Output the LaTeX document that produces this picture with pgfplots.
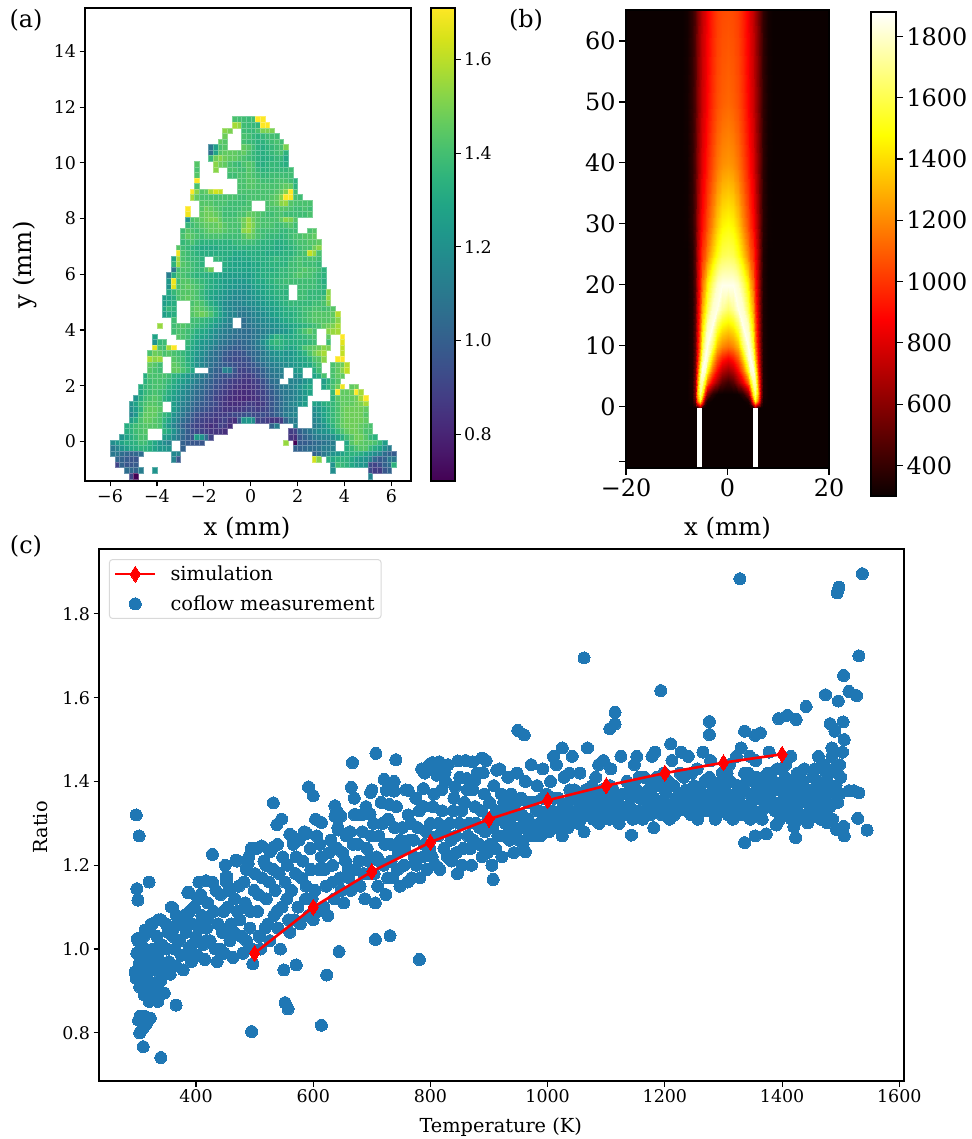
\documentclass[border=0pt]{standalone}
\usepackage{pgfplots}
\usepackage{pgfplotstable}
\usepackage{fontspec}
\setmainfont{DejaVu Serif}
\pgfplotsset{compat=1.18}
\definecolor{tabblue}{HTML}{1F77B4}
\pgfplotsset{
  colormap={mplhot}{rgb(0cm)=(0.0416,0,0) rgb(3.65cm)=(1,0,0) rgb(7.46cm)=(1,1,0) rgb(10cm)=(1,1,1)},
  base/.style={scale only axis, axis line style={line width=1.1bp,black}, tick style={line width=1.1bp,black}, major tick length=5.5bp, tick align=outside},
  sm/.style={tick label style={font=\fontsize{17.5}{18}\selectfont}},
  lg/.style={major tick length=7bp,tick label style={font=\fontsize{24}{24}\selectfont}}
}
% heat map: ratio x 100, top row first, 0 = no data
\pgfplotstableread[header=false]{
0 0 0 0 0 0 0 0 0 0  0 0 0 0 0 0 0 0 0 0  0 0 0 0 0 0 136 135 134 133  134 170 172 0 0 0 0 0 0 0  0 0 0 0 0 0 0 0 0 0  0 0 0 0 0 0 0 0 0 0  0
0 0 0 0 0 0 0 0 0 0  0 0 0 0 0 0 0 0 0 0  0 0 0 0 0 0 150 148 134 133  132 131 171 170 0 0 0 0 0 0  0 0 0 0 0 0 0 0 0 0  0 0 0 0 0 0 0 0 0 0  0
0 0 0 0 0 0 0 0 0 0  0 0 0 0 0 0 0 0 0 0  0 0 0 0 146 144 0 0 134 133  132 136 144 144 144 0 0 0 0 0  0 0 0 0 0 0 0 0 0 0  0 0 0 0 0 0 0 0 0 0  0
0 0 0 0 0 0 0 0 0 0  0 0 0 0 0 0 0 0 0 0  0 0 0 0 142 0 0 0 136 135  132 130 132 134 135 134 0 0 0 0  0 0 0 0 0 0 0 0 0 0  0 0 0 0 0 0 0 0 0 0  0
0 0 0 0 0 0 0 0 0 0  0 0 0 0 0 0 0 0 0 0  0 0 0 140 138 0 0 0 135 133  132 130 130 132 134 136 135 0 0 0  0 0 0 0 0 0 0 0 0 0  0 0 0 0 0 0 0 0 0 0  0
0 0 0 0 0 0 0 0 0 0  0 0 0 0 0 0 0 0 0 0  0 108 122 136 138 0 0 0 140 138  134 130 128 130 132 134 136 144 0 0  0 0 0 0 0 0 0 0 0 0  0 0 0 0 0 0 0 0 0 0  0
0 0 0 0 0 0 0 0 0 0  0 0 0 0 0 0 0 0 0 0  0 105 124 138 140 140 140 138 140 136  132 130 128 130 132 134 136 130 0 0  0 0 0 0 0 0 0 0 0 0  0 0 0 0 0 0 0 0 0 0  0
0 0 0 0 0 0 0 0 0 0  0 0 0 0 0 0 0 0 0 0  0 132 142 146 142 140 140 138 136 134  132 130 128 128 130 132 132 126 0 0  0 0 0 0 0 0 0 0 0 0  0 0 0 0 0 0 0 0 0 0  0
0 0 0 0 0 0 0 0 0 0  0 0 0 0 0 0 0 0 138 0  0 0 146 142 140 136 134 132 136 138  136 130 128 130 132 132 130 128 0 0  0 0 0 0 0 0 0 0 0 0  0 0 0 0 0 0 0 0 0 0  0
0 0 0 0 0 0 0 0 0 0  0 0 0 0 0 0 0 0 136 0  0 0 146 0 0 136 136 134 134 138  136 132 130 130 132 132 132 132 134 0  0 0 0 0 0 0 0 0 0 0  0 0 0 0 0 0 0 0 0 0  0
0 0 0 0 0 0 0 0 0 0  0 0 0 0 0 0 0 0 138 0  0 0 0 0 0 134 134 136 136 138  136 134 132 132 134 134 134 134 134 0  0 0 0 0 0 0 0 0 0 0  0 0 0 0 0 0 0 0 0 0  0
0 0 0 0 0 0 0 0 0 0  0 0 0 0 0 0 0 0 172 0  0 0 0 0 0 0 0 136 136 138  138 136 134 134 134 136 136 136 134 130  0 0 0 0 0 0 0 0 0 0  0 0 0 0 0 0 0 0 0 0  0
0 0 0 0 0 0 0 0 0 0  0 0 0 0 0 0 0 0 136 0  0 0 0 0 0 0 0 136 136 138  138 136 136 136 136 136 138 140 140 130  0 0 0 0 0 0 0 0 0 0  0 0 0 0 0 0 0 0 0 0  0
0 0 0 0 0 0 0 0 0 0  0 0 0 0 0 0 0 172 146 138  140 150 156 154 0 0 0 136 136 136  136 136 136 136 136 138 140 146 172 135  0 0 0 0 0 0 0 0 0 0  0 0 0 0 0 0 0 0 0 0  0
0 0 0 0 0 0 0 0 0 0  0 0 0 0 0 0 0 150 140 136  136 136 136 136 136 136 136 134 134 136  136 136 136 136 138 140 146 170 172 136  134 0 0 0 0 0 0 0 0 0  0 0 0 0 0 0 0 0 0 0  0
0 0 0 0 0 0 0 0 0 0  0 0 0 0 0 0 0 0 0 138  138 138 136 136 136 134 134 134 134 136  0 0 0 136 138 140 146 148 138 136  136 136 136 0 0 0 0 0 0 0  0 0 0 0 0 0 0 0 0 0  0
0 0 0 0 0 0 0 0 0 0  0 0 0 0 0 0 172 0 0 138  142 140 138 136 134 134 134 134 136 136  0 0 0 136 136 136 138 138 136 134  134 136 134 0 0 0 0 0 0 0  0 0 0 0 0 0 0 0 0 0  0
0 0 0 0 0 0 0 0 0 0  0 0 0 0 0 0 160 0 0 140  142 142 140 138 134 134 134 136 136 140  140 138 136 134 134 136 136 134 134 134  134 134 136 0 0 0 0 0 0 0  0 0 0 0 0 0 0 0 0 0  0
0 0 0 0 0 0 0 0 0 0  0 0 0 0 0 0 118 136 138 140  142 144 144 140 136 136 136 138 142 148  142 138 136 136 136 136 140 146 144 138  0 0 0 0 0 0 0 0 0 0  0 0 0 0 0 0 0 0 0 0  0
0 0 0 0 0 0 0 0 0 0  0 0 0 0 0 0 132 134 136 138  140 140 140 142 138 136 136 136 142 148  144 138 136 136 136 134 134 136 138 134  0 0 0 0 0 0 0 0 0 0  0 0 0 0 0 0 0 0 0 0  0
0 0 0 0 0 0 0 0 0 0  0 0 0 0 0 134 138 136 134 136  138 140 140 140 138 136 136 134 146 148  142 136 134 134 134 134 132 132 134 134  0 0 136 138 0 0 0 0 0 0  0 0 0 0 0 0 0 0 0 0  0
0 0 0 0 0 0 0 0 0 0  0 0 0 0 0 136 140 138 136 134  136 136 136 136 134 134 134 134 138 142  140 136 134 132 132 132 130 132 134 136  136 138 138 140 0 0 0 0 0 0  0 0 0 0 0 0 0 0 0 0  0
0 0 0 0 0 0 0 0 0 0  0 0 0 0 0 132 134 136 132 130  130 130 130 130 130 130 132 132 134 134  134 132 130 130 130 128 128 130 132 134  136 136 138 138 140 0 0 0 0 0  0 0 0 0 0 0 0 0 0 0  0
0 0 0 0 0 0 0 0 0 0  0 0 0 0 138 134 132 130 128 126  126 126 126 128 128 128 128 130 130 130  130 130 128 128 128 126 126 128 130 132  134 136 136 142 146 0 0 0 0 0  0 0 0 0 0 0 0 0 0 0  0
0 0 0 0 0 0 0 0 0 0  0 0 0 0 160 136 134 132 130 128  128 128 128 128 128 128 126 126 126 128  128 128 128 126 128 128 128 130 130 132  134 136 154 148 136 0 0 0 0 0  0 0 0 0 0 0 0 0 0 0  0
0 0 0 0 0 0 0 0 0 0  0 0 0 124 150 136 134 132 132 130  0 0 132 130 128 126 124 124 126 126  128 128 128 128 130 132 130 130 132 134  136 134 136 136 134 0 0 0 0 0  0 0 0 0 0 0 0 0 0 0  0
0 0 0 0 0 0 0 0 0 0  0 0 0 130 148 138 136 134 132 130  0 0 0 0 128 126 124 124 124 124  126 126 128 128 130 130 130 130 134 134  136 134 134 134 132 0 0 0 0 0  0 0 0 0 0 0 0 0 0 0  0
0 0 0 0 0 0 0 0 0 0  0 0 0 108 134 136 136 134 132 132  136 142 0 0 126 124 124 124 124 124  126 126 128 128 128 130 132 132 134 134  136 138 136 136 134 130 0 0 0 0  0 0 0 0 0 0 0 0 0 0  0
0 0 0 0 0 0 0 0 0 0  0 0 110 128 136 136 134 132 130 130  128 128 126 124 122 122 122 122 122 122  124 126 128 128 130 130 132 132 134 136  138 136 136 134 132 130 0 0 0 0  0 0 0 0 0 0 0 0 0 0  0
0 0 0 0 0 0 0 0 0 0  0 0 120 160 134 138 138 136 134 132  130 128 126 124 122 122 120 120 120 122  124 126 126 128 130 132 132 134 134 134  134 134 134 134 132 128 0 0 0 0  0 0 0 0 0 0 0 0 0 0  0
0 0 0 0 0 0 0 0 0 0  0 0 118 158 136 138 140 138 136 134  130 128 126 124 122 120 120 118 118 118  122 124 124 126 128 130 132 132 0 0  134 134 134 134 132 130 0 0 0 0  0 0 0 0 0 0 0 0 0 0  0
0 0 0 0 0 0 0 0 0 0  0 0 126 132 136 138 138 138 136 132  128 126 124 122 120 118 116 116 116 118  120 122 124 126 128 130 130 130 0 0  134 134 132 132 132 130 146 0 0 0  0 0 0 0 0 0 0 0 0 0  0
0 0 0 0 0 0 0 0 0 0  0 122 124 128 136 138 140 138 136 132  128 124 122 120 118 116 114 114 114 116  118 120 122 124 126 128 130 130 0 0  134 134 132 132 132 134 148 0 0 0  0 0 0 0 0 0 0 0 0 0  0
0 0 0 0 0 0 0 0 0 0  0 122 126 128 0 0 0 136 138 136  132 128 124 120 116 114 112 112 114 116  116 118 120 122 124 126 128 130 132 132  132 132 132 134 134 136 144 0 0 0  0 0 0 0 0 0 0 0 0 0  0
0 0 0 0 0 0 0 0 0 0  0 126 132 130 0 0 0 138 140 138  136 132 128 122 116 114 112 110 110 112  114 116 118 120 122 124 126 128 130 130  132 134 134 136 136 134 136 138 0 0  0 0 0 0 0 0 0 0 0 0  0
0 0 0 0 0 0 0 0 0 0  0 122 126 128 0 0 0 138 140 142  140 136 130 124 118 114 112 108 108 110  112 114 116 118 122 124 126 128 128 130  132 134 136 138 138 138 138 140 152 0  0 0 0 0 0 0 0 0 0 0  0
0 0 0 0 0 0 0 0 0 0  0 0 0 134 0 0 0 134 134 132  130 128 124 120 116 112 0 0 104 108  110 112 114 116 118 120 124 126 128 130  132 134 136 138 138 138 138 140 146 0  0 0 0 0 0 0 0 0 0 0  0
0 0 0 0 0 0 0 0 0 0  148 0 0 134 136 138 136 134 132 130  128 124 120 116 112 110 0 0 104 106  108 110 112 114 116 118 120 122 124 126  128 130 132 134 136 140 142 144 150 0  0 0 0 0 0 0 0 0 0 0  0
0 0 0 0 0 0 0 0 0 0  0 0 0 134 136 136 134 132 128 126  124 120 116 112 110 108 106 104 104 104  106 108 110 112 114 116 118 120 124 128  132 136 140 136 0 0 146 148 150 0  0 0 0 0 0 0 0 0 0 0  0
0 0 0 0 0 0 0 0 0 124  0 0 0 0 138 136 134 130 126 124  122 118 114 110 108 106 104 104 104 104  106 108 112 116 124 130 128 126 126 128  130 132 134 136 0 0 140 0 0 170  0 0 0 0 0 0 0 0 0 0  0
0 0 0 0 0 0 0 0 0 118  132 134 0 0 0 0 132 128 124 120  118 116 112 108 106 104 102 100 102 104  106 110 116 122 130 132 130 128 128 128  130 130 132 134 0 0 134 0 0 158  0 0 0 0 0 0 0 0 0 0  0
0 0 0 0 0 0 0 0 0 158  136 134 150 166 0 0 130 126 122 118  116 112 108 104 102 100 98 98 100 102  104 108 112 118 124 128 128 126 124 126  130 136 138 140 142 146 144 0 0 154  0 0 0 0 0 0 0 0 0 0  0
0 0 0 0 0 0 0 0 136 142  140 136 138 136 134 132 128 124 120 116  112 108 104 102 98 96 94 94 96 100  102 104 108 112 116 118 120 118 120 122  126 130 136 142 146 150 0 0 0 154  0 0 0 0 0 0 0 0 0 0  0
0 0 0 0 0 0 0 0 150 146  148 0 0 138 136 134 128 124 118 114  110 106 104 100 96 94 92 92 94 96  100 104 108 110 114 116 118 118 120 122  124 126 130 136 138 146 0 0 168 170  0 0 0 0 0 0 0 0 0 0  0
0 0 0 0 0 0 0 0 140 138  134 0 0 140 138 134 130 124 118 114  110 106 102 100 98 96 94 92 92 94  96 100 104 108 110 112 114 116 118 120  122 124 126 132 136 0 0 136 140 142  152 0 0 0 0 0 0 0 0 0  0
0 0 0 0 0 0 0 0 138 136  134 0 0 140 140 136 132 126 0 0  0 104 100 98 112 110 96 90 90 92  94 96 100 104 108 110 112 0 0 120  122 0 0 128 134 0 0 136 140 146  154 0 0 0 0 0 0 0 0 0  0
0 0 0 0 0 0 0 128 136 136  136 136 134 130 128 124 120 116 112 110  106 102 98 96 94 96 92 90 88 88  90 94 98 102 106 108 110 0 0 116  118 0 0 124 128 136 0 136 140 140  0 0 0 0 0 0 0 0 0 0  0
0 0 0 0 0 0 0 130 134 136  136 134 132 128 124 122 118 114 110 106  102 100 96 94 92 90 88 87 86 86  88 90 94 98 104 106 0 0 112 112  114 118 122 0 0 122 128 134 138 0  0 0 0 0 0 0 0 0 0 0  0
0 0 0 0 0 0 128 132 134 136  136 134 130 126 122 118 114 110 106 104  100 98 94 92 90 88 86 85 84 85  86 88 92 96 100 104 108 110 112 114  118 122 126 0 0 124 130 136 142 160  0 140 142 0 0 0 0 0 0 0  0
0 0 0 0 0 0 126 132 134 136  134 132 128 124 120 116 112 108 104 102  98 96 92 90 88 86 84 83 83 84  85 88 90 94 98 102 106 108 110 112  116 120 124 0 0 0 0 132 172 140  140 142 170 150 0 0 0 0 0 0  0
0 0 0 0 0 118 128 134 136 138  136 130 126 122 118 114 110 106 102 100  96 94 90 88 86 84 83 82 82 83  84 86 90 92 96 100 104 108 110 112  116 120 0 0 0 0 0 130 138 140  140 140 142 150 170 0 0 0 0 0  0
0 0 0 0 118 124 132 136 138 138  136 0 0 122 116 112 108 104 100 98  96 94 92 88 86 84 84 84 86 88  88 86 88 92 96 100 104 108 112 114  118 122 0 124 122 128 130 132 136 140  140 140 142 144 150 0 0 0 0 0  0
0 0 0 0 116 122 130 138 140 140  138 0 0 122 116 110 106 102 98 96  94 92 90 88 86 86 86 86 88 90  90 88 90 92 96 100 104 108 110 112  0 0 0 116 120 124 128 132 136 140  142 142 142 142 140 0 0 0 0 0  0
0 0 0 0 112 120 134 140 140 140  136 132 128 118 112 108 102 98 94 92  90 90 88 88 88 90 92 92 94 96  92 92 94 92 96 100 104 110 112 114  0 0 0 114 118 124 128 132 136 140  142 142 142 142 138 0 0 0 0 0  0
0 0 0 0 122 128 136 140 140 138  136 130 124 116 110 104 100 96 92 90  88 88 86 88 90 86 84 96 118 120  116 90 90 88 86 86 88 100 108 110  0 0 0 112 116 122 128 132 136 140  142 142 142 142 140 0 0 0 0 0  0
0 0 0 128 130 134 136 138 138 138  136 128 120 112 106 100 96 92 90 88  86 84 86 90 88 84 0 0 0 0  0 0 0 0 100 110 0 0 0 112  0 0 0 110 114 118 124 130 136 140  142 142 142 140 138 136 0 0 0 0  0
0 0 0 128 130 134 136 138 0 0  0 130 126 118 110 104 98 94 92 90  88 86 86 86 84 0 0 0 0 0  0 0 0 0 0 0 0 0 88 90  100 104 108 112 116 118 120 126 132 136  140 142 142 140 136 136 0 0 0 0  0
0 0 118 124 128 132 136 136 0 0  0 122 120 114 108 102 98 96 122 118  104 90 0 0 0 0 0 0 0 0  0 0 0 0 0 0 0 0 86 84  96 100 104 108 110 112 112 116 122 128  134 138 142 142 138 132 130 0 0 0  0
116 120 124 128 128 130 134 134 130 126  120 116 112 0 0 100 98 96 96 96  0 0 0 0 0 0 0 0 0 0  0 0 0 0 0 0 0 148 0 72  98 98 100 102 104 106 108 110 0 0  126 138 142 140 138 138 136 132 122 0  0
108 112 118 122 126 128 130 130 128 124  120 120 118 0 0 100 0 0 0 0  0 0 0 0 0 0 0 0 0 0  0 0 0 0 0 0 0 0 0 100  100 102 104 104 106 110 110 112 0 0  128 132 136 138 138 132 128 124 116 110  0
108 108 104 102 100 102 104 0 0 0  0 0 0 114 112 0 0 0 0 0  0 0 0 0 0 0 0 0 0 0  0 0 0 0 0 0 0 0 0 0  0 0 0 100 104 108 112 118 120 124  128 130 130 128 124 120 116 112 104 100  98
0 102 100 98 96 96 0 0 0 0  0 0 0 112 96 0 0 0 0 0  0 0 0 0 0 0 0 0 0 0  0 0 0 0 0 0 0 0 0 0  0 0 0 156 146 0 128 126 130 130  130 126 122 120 118 112 102 98 100 108  108
0 90 100 96 96 98 0 0 0 0  0 0 0 0 0 0 0 0 0 0  0 0 0 0 0 0 0 0 0 0  0 0 0 0 0 0 0 0 0 0  0 0 0 0 0 0 0 118 134 132  130 126 122 120 118 92 90 94 100 104  130
0 0 0 104 102 100 110 0 0 118  0 0 0 0 0 0 0 0 0 0  0 0 0 0 0 0 0 0 0 0  0 0 0 0 0 0 0 0 0 0  0 0 0 0 0 0 0 116 0 0  0 0 0 0 0 92 88 88 96 100  0
0 0 0 0 90 72 0 0 0 0  0 0 0 0 0 0 0 0 0 0  0 0 0 0 0 0 0 0 0 0  0 0 0 0 0 0 0 0 0 0  0 0 0 0 0 0 0 0 0 0  0 0 0 0 0 112 0 0 0 0  0
}\cells
% flame temperature, right half (x>=0); the left half is drawn by mirroring it
\pgfplotstableread[row sep=\\]{
x y T\\
0 -10 300\\ 1 -10 300\\ 2 -10 300\\ 3 -10 300\\ 4 -10 300\\ 4.5 -10 300\\ 5 -10 300\\ 5.5 -10 300\\ 6 -10 300\\ 6.5 -10 300\\ 7 -10 300\\ 8 -10 300\\ 9 -10 300\\ 20 -10 300\\
0 -0.1 300\\ 1 -0.1 300\\ 2 -0.1 300\\ 3 -0.1 300\\ 4 -0.1 300\\ 4.5 -0.1 300\\ 5 -0.1 300\\ 5.5 -0.1 300\\ 6 -0.1 300\\ 6.5 -0.1 300\\ 7 -0.1 300\\ 8 -0.1 300\\ 9 -0.1 300\\ 20 -0.1 300\\
0 0 300\\ 1 0 300\\ 2 0 300\\ 3 0 300\\ 4 0 300\\ 4.5 0 320\\ 5 0 400\\ 5.5 0 700\\ 6 0 400\\ 6.5 0 320\\ 7 0 300\\ 8 0 300\\ 9 0 300\\ 20 0 300\\
0 0.5 300\\ 1 0.5 300\\ 2 0.5 300\\ 3 0.5 300\\ 4 0.5 310\\ 4.5 0.5 380\\ 5 0.5 800\\ 5.5 0.5 1100\\ 6 0.5 800\\ 6.5 0.5 400\\ 7 0.5 310\\ 8 0.5 300\\ 9 0.5 300\\ 20 0.5 300\\
0 1 300\\ 1 1 300\\ 2 1 300\\ 3 1 300\\ 4 1 340\\ 4.5 1 500\\ 5 1 1100\\ 5.5 1 1500\\ 6 1 1100\\ 6.5 1 500\\ 7 1 320\\ 8 1 300\\ 9 1 300\\ 20 1 300\\
0 2 300\\ 1 2 300\\ 2 2 310\\ 3 2 380\\ 4 2 600\\ 4.5 2 900\\ 5 2 1500\\ 5.5 2 1700\\ 6 2 1300\\ 6.5 2 600\\ 7 2 340\\ 8 2 300\\ 9 2 300\\ 20 2 300\\
0 4 420\\ 1 4 480\\ 2 4 650\\ 3 4 850\\ 4 4 1150\\ 4.5 4 1450\\ 5 4 1750\\ 5.5 4 1750\\ 6 4 1150\\ 6.5 4 600\\ 7 4 350\\ 8 4 300\\ 9 4 300\\ 20 4 300\\
0 6 650\\ 1 6 720\\ 2 6 900\\ 3 6 1150\\ 4 6 1550\\ 4.5 6 1800\\ 5 6 1850\\ 5.5 6 1600\\ 6 6 1000\\ 6.5 6 550\\ 7 6 340\\ 8 6 300\\ 9 6 300\\ 20 6 300\\
0 8 880\\ 1 8 950\\ 2 8 1100\\ 3 8 1400\\ 4 8 1800\\ 4.5 8 1860\\ 5 8 1700\\ 5.5 8 1350\\ 6 8 880\\ 6.5 8 520\\ 7 8 340\\ 8 8 300\\ 9 8 300\\ 20 8 300\\
0 10 1150\\ 1 10 1200\\ 2 10 1320\\ 3 10 1650\\ 4 10 1850\\ 4.5 10 1780\\ 5 10 1550\\ 5.5 10 1200\\ 6 10 820\\ 6.5 10 500\\ 7 10 340\\ 8 10 300\\ 9 10 300\\ 20 10 300\\
0 13 1400\\ 1 13 1450\\ 2 13 1600\\ 3 13 1850\\ 4 13 1780\\ 4.5 13 1620\\ 5 13 1400\\ 5.5 13 1100\\ 6 13 780\\ 6.5 13 490\\ 7 13 340\\ 8 13 300\\ 9 13 300\\ 20 13 300\\
0 16 1650\\ 1 16 1720\\ 2 16 1840\\ 3 16 1800\\ 4 16 1600\\ 4.5 16 1450\\ 5 16 1280\\ 5.5 16 1020\\ 6 16 750\\ 6.5 16 480\\ 7 16 340\\ 8 16 300\\ 9 16 300\\ 20 16 300\\
0 20 1850\\ 1 20 1850\\ 2 20 1800\\ 3 20 1650\\ 4 20 1450\\ 4.5 20 1300\\ 5 20 1150\\ 5.5 20 950\\ 6 20 720\\ 6.5 20 480\\ 7 20 350\\ 8 20 300\\ 9 20 300\\ 20 20 300\\
0 25 1620\\ 1 25 1600\\ 2 25 1500\\ 3 25 1350\\ 4 25 1180\\ 4.5 25 1080\\ 5 25 1000\\ 5.5 25 880\\ 6 25 690\\ 6.5 25 480\\ 7 25 350\\ 8 25 300\\ 9 25 300\\ 20 25 300\\
0 30 1480\\ 1 30 1450\\ 2 30 1350\\ 3 30 1200\\ 4 30 1060\\ 4.5 30 980\\ 5 30 900\\ 5.5 30 800\\ 6 30 650\\ 6.5 30 480\\ 7 30 370\\ 8 30 310\\ 9 30 300\\ 20 30 300\\
0 40 1230\\ 1 40 1210\\ 2 40 1150\\ 3 40 1050\\ 4 40 940\\ 4.5 40 880\\ 5 40 810\\ 5.5 40 720\\ 6 40 600\\ 6.5 40 480\\ 7 40 380\\ 8 40 310\\ 9 40 300\\ 20 40 300\\
0 50 1120\\ 1 50 1100\\ 2 50 1060\\ 3 50 980\\ 4 50 880\\ 4.5 50 820\\ 5 50 760\\ 5.5 50 680\\ 6 50 580\\ 6.5 50 470\\ 7 50 390\\ 8 50 320\\ 9 50 300\\ 20 50 300\\
0 65.1 1060\\ 1 65.1 1050\\ 2 65.1 1020\\ 3 65.1 950\\ 4 65.1 860\\ 4.5 65.1 800\\ 5 65.1 740\\ 5.5 65.1 670\\ 6 65.1 570\\ 6.5 65.1 470\\ 7 65.1 390\\ 8 65.1 320\\ 9 65.1 300\\ 20 65.1 300\\
}\flame
\pgfplotstableread[row sep=\\]{
T R\\
298 1.32\\ 303 1.27\\ 320 1.16\\ 299 1.144\\ 301 1.117\\ 428 1.226\\ 366 0.866\\ 310 0.767\\ 340 0.741\\ 495 0.803\\ 614 0.818\\ 550 0.95\\ 571 0.962\\ 623 0.938\\ 644 0.994\\ 706 1.023\\ 731 1.032\\ 781 0.975\\ 552 0.872\\ 557 0.857\\ 907 1.166\\
1328 1.884\\ 1537 1.896\\ 1497 1.864\\ 1494 1.85\\ 1531 1.70\\ 1062 1.695\\ 1505 1.653\\ 1193 1.617\\ 1514 1.615\\ 1527 1.605\\ 1474 1.607\\ 1496 1.592\\ 1441 1.579\\ 1394 1.55\\ 1409 1.558\\ 1424 1.548\\ 1482 1.538\\ 1504 1.542\\ 1115 1.565\\ 1115 1.537\\ 1106 1.526\\ 1276 1.543\\ 1276 1.512\\ 949 1.522\\ 960 1.511\\ 1336 1.52\\ 1363 1.516\\ 1354 1.51\\
962 1.232\\ 1143 1.272\\ 1181 1.29\\ 1336 1.254\\ 1354 1.27\\ 1373 1.275\\ 1423 1.266\\ 1390 1.296\\ 1545 1.284\\ 1529 1.312\\ 1505 1.293\\ 1506 1.27\\ 1493 1.285\\ 1477 1.301\\ 1444 1.301\\ 1420 1.292\\ 1424 1.306\\ 1499 1.371\\ 1514 1.378\\ 1522 1.378\\ 1531 1.373\\
494 1.24\\ 512 1.246\\ 539 1.25\\ 526 1.232\\ 468 1.212\\ 489 1.204\\ 452 1.174\\ 417 1.163\\ 388 1.135\\ 360 1.099\\ 336 1.07\\ 324 1.06\\ 313 1.045\\ 560 1.274\\ 589 1.276\\ 576 1.26\\ 532 1.349\\ 546 1.31\\ 538 1.297\\ 592 1.387\\ 600 1.366\\ 614 1.302\\ 637 1.342\\ 637 1.317\\ 647 1.317\\ 643 1.284\\ 667 1.445\\ 665 1.386\\ 670 1.321\\ 683 1.32\\ 697 1.322\\ 698 1.374\\ 707 1.467\\ 741 1.452\\ 721 1.405\\ 725 1.379\\ 738 1.377\\ 730 1.345\\ 762 1.379\\ 788 1.383\\ 790 1.42\\ 803 1.445\\ 815 1.447\\ 847 1.449\\ 872 1.447\\ 888 1.456\\ 825 1.422\\ 811 1.415\\ 842 1.387\\ 862 1.407\\ 876 1.403\\ 890 1.421\\ 913 1.427\\
297 0.94\\ 299 0.99\\ 301 1.02\\ 303 0.965\\ 306 1.01\\ 298 0.93\\ 308 0.975\\ 304 0.91\\ 311 1.03\\ 313 1.0\\ 310 0.95\\ 315 0.93\\ 312 0.89\\ 318 1.045\\ 320 0.98\\ 322 0.96\\ 317 0.905\\ 325 1.06\\ 327 1.0\\ 329 0.95\\ 324 0.92\\ 320 0.875\\ 328 0.885\\ 333 1.03\\ 335 0.98\\ 337 0.945\\ 331 0.91\\ 335 0.875\\ 340 1.07\\ 342 1.01\\ 344 0.96\\ 340 0.925\\ 346 0.895\\ 305 0.84\\ 302 0.83\\ 309 0.81\\ 304 0.80\\ 315 0.82\\ 322 0.835\\ 312 0.84\\ 296 0.945\\ 300 1.025\\
350 1.0\\ 352 1.04\\ 354 0.97\\ 356 0.94\\ 358 1.10\\ 362 1.05\\ 364 1.0\\ 366 0.96\\ 370 1.07\\ 372 1.02\\ 375 0.985\\ 378 0.95\\ 380 1.08\\ 383 1.04\\ 386 1.135\\ 388 1.0\\ 392 0.97\\ 394 1.06\\ 397 1.1\\ 400 1.03\\ 402 0.985\\ 405 1.16\\ 408 1.13\\ 410 1.08\\ 412 1.01\\ 415 0.975\\ 418 1.05\\ 420 1.11\\ 424 1.02\\ 428 1.16\\ 430 1.09\\ 433 1.0\\ 436 0.97\\ 438 1.06\\ 442 1.13\\ 445 1.04\\ 448 0.99\\ 450 1.2\\ 452 1.16\\ 455 1.1\\ 458 1.02\\ 460 1.06\\ 463 0.98\\ 466 1.12\\ 470 1.21\\ 473 1.15\\ 475 1.07\\ 478 1.03\\ 480 0.99\\ 484 1.11\\ 486 1.19\\ 490 1.22\\ 492 1.05\\ 495 1.0\\ 497 0.965\\ 499 1.14\\ 503 1.24\\ 505 1.09\\ 508 1.03\\ 510 1.0\\ 513 1.17\\ 516 1.21\\ 520 1.12\\ 523 1.06\\ 526 1.02\\ 530 1.24\\ 532 1.19\\ 535 1.14\\ 538 1.09\\ 540 1.05\\ 544 1.0\\ 548 1.22\\ 552 1.16\\ 555 1.12\\ 558 1.07\\ 560 1.04\\ 564 1.27\\ 566 1.25\\ 570 1.18\\ 574 1.1\\ 578 1.06\\ 582 1.21\\ 585 1.28\\ 588 1.15\\ 592 1.08\\ 595 1.24\\ 598 1.12\\ 600 1.07\\
604 1.31\\ 606 1.27\\ 610 1.19\\ 614 1.22\\ 618 1.1\\ 622 1.15\\ 625 1.08\\ 630 1.26\\ 633 1.2\\ 636 1.12\\ 640 1.33\\ 642 1.29\\ 646 1.17\\ 650 1.23\\ 652 1.11\\ 656 1.27\\ 660 1.19\\ 664 1.14\\ 668 1.25\\ 670 1.36\\ 674 1.32\\ 678 1.21\\ 680 1.15\\ 684 1.28\\ 688 1.12\\ 690 1.34\\ 692 1.24\\ 696 1.18\\ 700 1.38\\ 703 1.3\\ 706 1.11\\ 708 1.22\\ 710 1.15\\ 712 1.27\\ 716 1.35\\ 720 1.2\\ 724 1.13\\ 728 1.31\\ 732 1.25\\ 736 1.17\\ 738 1.4\\ 742 1.34\\ 745 1.23\\ 748 1.15\\ 752 1.29\\ 755 1.2\\ 758 1.38\\ 762 1.32\\ 765 1.26\\ 768 1.17\\ 772 1.22\\ 775 1.36\\ 778 1.29\\ 782 1.17\\ 785 1.43\\ 788 1.34\\ 790 1.25\\ 794 1.19\\ 798 1.44\\ 800 1.3\\ 803 1.22\\ 806 1.37\\ 810 1.42\\ 813 1.27\\ 816 1.19\\ 820 1.33\\ 823 1.24\\ 826 1.4\\ 830 1.44\\ 833 1.3\\ 836 1.21\\ 840 1.36\\ 843 1.27\\ 846 1.18\\ 850 1.41\\ 853 1.33\\ 856 1.24\\ 860 1.45\\ 863 1.38\\ 866 1.3\\ 870 1.2\\ 873 1.26\\ 876 1.34\\ 880 1.42\\ 884 1.29\\ 888 1.22\\ 892 1.37\\ 895 1.45\\ 898 1.31\\ 902 1.25\\ 905 1.2\\ 908 1.39\\ 912 1.33\\ 915 1.27\\ 918 1.43\\ 922 1.22\\ 925 1.35\\ 928 1.3\\ 932 1.41\\ 935 1.26\\ 938 1.37\\ 942 1.23\\ 945 1.32\\ 948 1.42\\ 952 1.29\\ 955 1.36\\ 958 1.25\\ 962 1.4\\ 965 1.31\\ 968 1.27\\ 972 1.44\\ 975 1.35\\ 978 1.29\\ 982 1.39\\ 985 1.33\\ 988 1.27\\ 992 1.43\\ 995 1.31\\ 998 1.37\\
1002 1.28\\ 1005 1.4\\ 1008 1.33\\ 1012 1.29\\ 1015 1.44\\ 1018 1.36\\ 1022 1.31\\ 1025 1.27\\ 1028 1.41\\ 1032 1.34\\ 1035 1.29\\ 1038 1.38\\ 1042 1.46\\ 1045 1.32\\ 1048 1.36\\ 1052 1.3\\ 1055 1.42\\ 1058 1.34\\ 1062 1.28\\ 1065 1.38\\ 1068 1.48\\ 1072 1.32\\ 1075 1.36\\ 1078 1.31\\ 1082 1.41\\ 1085 1.34\\ 1088 1.3\\ 1092 1.38\\ 1095 1.45\\ 1098 1.33\\ 1102 1.36\\ 1105 1.31\\ 1108 1.43\\ 1112 1.38\\ 1115 1.33\\ 1118 1.35\\ 1122 1.3\\ 1125 1.46\\ 1128 1.37\\ 1132 1.32\\ 1135 1.4\\ 1138 1.34\\ 1142 1.36\\ 1145 1.31\\ 1148 1.44\\ 1152 1.38\\ 1155 1.33\\ 1158 1.36\\ 1162 1.31\\ 1165 1.41\\ 1168 1.35\\ 1172 1.38\\ 1175 1.32\\ 1178 1.46\\ 1182 1.36\\ 1185 1.33\\ 1188 1.39\\ 1192 1.35\\ 1195 1.32\\ 1198 1.42\\ 1202 1.37\\ 1205 1.34\\ 1208 1.31\\ 1212 1.45\\ 1215 1.39\\ 1218 1.35\\ 1222 1.33\\ 1225 1.37\\ 1228 1.47\\ 1232 1.41\\ 1235 1.35\\ 1238 1.33\\ 1242 1.38\\ 1245 1.32\\ 1248 1.36\\ 1252 1.34\\ 1255 1.43\\ 1258 1.38\\ 1262 1.35\\ 1265 1.33\\ 1268 1.4\\ 1272 1.36\\ 1275 1.33\\ 1278 1.45\\ 1282 1.39\\ 1285 1.35\\ 1288 1.32\\ 1292 1.37\\ 1295 1.34\\ 1298 1.42\\
1302 1.38\\ 1305 1.35\\ 1308 1.32\\ 1312 1.4\\ 1315 1.36\\ 1318 1.34\\ 1322 1.46\\ 1325 1.39\\ 1328 1.35\\ 1332 1.32\\ 1335 1.38\\ 1338 1.34\\ 1342 1.42\\ 1345 1.37\\ 1348 1.35\\ 1352 1.33\\ 1355 1.45\\ 1358 1.39\\ 1362 1.36\\ 1365 1.33\\ 1368 1.41\\ 1372 1.37\\ 1375 1.34\\ 1378 1.47\\ 1382 1.39\\ 1385 1.35\\ 1388 1.33\\ 1392 1.43\\ 1395 1.38\\ 1398 1.35\\ 1402 1.32\\ 1405 1.41\\ 1408 1.37\\ 1412 1.34\\ 1415 1.46\\ 1418 1.4\\ 1422 1.36\\ 1425 1.33\\ 1428 1.39\\ 1432 1.35\\ 1435 1.32\\ 1438 1.43\\ 1442 1.38\\ 1445 1.35\\ 1448 1.33\\ 1452 1.41\\ 1455 1.37\\ 1458 1.34\\ 1462 1.46\\ 1465 1.39\\ 1468 1.35\\ 1472 1.32\\ 1475 1.42\\ 1478 1.37\\ 1482 1.34\\ 1485 1.48\\ 1488 1.43\\ 1492 1.39\\ 1495 1.35\\ 1498 1.44\\ 1500 1.41\\ 1503 1.47\\ 1506 1.5\\ 1490 1.52\\ 1485 1.46\\
1280 1.37\\ 1180 1.34\\ 1220 1.36\\ 1320 1.37\\ 1360 1.38\\ 1400 1.39\\ 1440 1.36\\ 1470 1.38\\ 1120 1.36\\ 1250 1.39\\ 1340 1.4\\ 1380 1.36\\ 1420 1.38\\ 1460 1.4\\ 1200 1.38\\ 1300 1.36\\ 1160 1.37\\ 1240 1.35\\ 1350 1.36\\ 1410 1.35\\ 1450 1.38\\ 1490 1.37\\ 1100 1.35\\ 1140 1.34\\ 1230 1.37\\ 1290 1.39\\ 1370 1.39\\ 1430 1.37\\ 1480 1.39\\
361 1.03\\ 377 1.06\\ 349 1.06\\ 393 1.01\\ 406 1.05\\ 367 1.08\\ 389 1.09\\ 403 1.12\\ 421 1.07\\ 417 1.02\\ 434 1.14\\ 447 1.09\\ 441 1.0\\ 457 1.14\\ 471 1.09\\ 465 1.04\\ 482 1.16\\ 493 1.09\\ 486 1.02\\ 507 1.13\\ 518 1.05\\ 501 1.18\\ 525 1.16\\ 533 1.08\\ 542 1.18\\ 547 1.1\\ 519 1.2\\ 556 1.2\\ 563 1.14\\ 571 1.22\\ 580 1.17\\ 568 1.07\\ 587 1.12\\ 596 1.19\\ 603 1.14\\ 611 1.25\\ 608 1.09\\ 619 1.19\\ 627 1.23\\ 634 1.16\\ 641 1.24\\ 648 1.14\\ 655 1.21\\ 663 1.28\\ 661 1.17\\ 672 1.19\\ 677 1.25\\ 686 1.18\\ 694 1.21\\ 699 1.27\\ 704 1.18\\ 713 1.21\\ 718 1.3\\ 722 1.25\\ 727 1.17\\ 733 1.21\\ 739 1.29\\ 744 1.19\\ 749 1.26\\ 756 1.24\\ 761 1.16\\ 767 1.3\\ 771 1.26\\ 776 1.2\\ 781 1.33\\ 787 1.22\\ 793 1.28\\ 799 1.24\\ 804 1.34\\ 809 1.2\\ 814 1.3\\ 819 1.38\\ 824 1.28\\ 829 1.22\\ 835 1.26\\ 839 1.33\\ 844 1.23\\ 849 1.3\\ 854 1.2\\ 858 1.35\\ 864 1.27\\ 868 1.24\\ 872 1.38\\ 878 1.3\\ 883 1.25\\ 887 1.33\\ 893 1.28\\ 897 1.23\\ 901 1.35\\ 906 1.29\\ 911 1.24\\ 916 1.31\\ 921 1.37\\ 926 1.27\\ 931 1.33\\ 936 1.3\\ 941 1.28\\ 946 1.35\\ 951 1.26\\ 956 1.32\\ 961 1.29\\ 966 1.35\\ 971 1.3\\ 976 1.27\\ 981 1.33\\ 986 1.3\\ 991 1.36\\ 996 1.28\\ 1001 1.33\\ 1006 1.3\\ 1011 1.36\\ 1016 1.32\\ 1021 1.29\\ 1026 1.34\\ 1031 1.31\\ 1036 1.35\\ 1041 1.3\\ 1046 1.38\\ 1051 1.33\\ 1056 1.31\\ 1061 1.37\\ 1066 1.33\\ 1071 1.35\\ 1076 1.39\\ 1081 1.33\\ 1086 1.37\\ 1091 1.32\\ 1096 1.35\\
1106 1.39\\ 1116 1.31\\ 1126 1.34\\ 1136 1.37\\ 1146 1.39\\ 1156 1.41\\ 1166 1.32\\ 1176 1.39\\ 1186 1.41\\ 1196 1.35\\ 1206 1.4\\ 1216 1.32\\ 1226 1.42\\ 1236 1.38\\ 1246 1.42\\ 1256 1.31\\ 1266 1.37\\ 1276 1.41\\ 1286 1.31\\ 1296 1.4\\ 1306 1.42\\ 1316 1.31\\ 1326 1.37\\ 1336 1.42\\ 1346 1.31\\ 1356 1.41\\ 1366 1.31\\ 1376 1.42\\ 1386 1.4\\ 1396 1.31\\ 1406 1.44\\ 1416 1.31\\ 1426 1.42\\ 1436 1.4\\ 1446 1.31\\ 1456 1.43\\ 1466 1.31\\ 1476 1.4\\ 1486 1.31\\ 1471 1.44\\ 1481 1.42\\ 1461 1.33\\ 1451 1.35\\
1183 1.47\\ 1152 1.46\\ 1087 1.44\\ 1037 1.42\\ 1010 1.46\\ 1025 1.48\\ 1210 1.49\\ 1240 1.46\\ 1265 1.47\\ 1310 1.44\\ 1330 1.48\\ 1345 1.46\\
}\scat
\begin{document}
\begin{tikzpicture}[x=1bp,y=1bp]
\path[use as bounding box] (0,0) rectangle (972,1139);
% (a)
\begin{axis}[base,sm,name=a,at={(85bp,658bp)},anchor=south west,width=326bp,height=473bp,
  xmin=-7.07,xmax=6.84,ymin=-1.42,ymax=15.56,
  xtick={-6,-4,-2,0,2,4,6},xticklabels={−6,−4,−2,0,2,4,6},
  ytick={0,2,4,6,8,10,12,14},yticklabels={0,2,4,6,8,10,12,14},
  tick pos=left,
  xlabel={x (mm)},ylabel={y (mm)},
  every axis x label/.style={at={(axis description cs:0.497,0)},anchor=center,yshift=-47bp,font=\fontsize{24.5}{25}\selectfont},
  every axis y label/.style={at={(axis description cs:0,0.457)},anchor=center,rotate=90,yshift=60bp,font=\fontsize{24.5}{25}\selectfont},
  colormap/viridis,point meta min=72,point meta max=162]
\pgfplotsinvokeforeach{0,...,60}{
  \addplot[scatter,only marks,mark=square*,mark size=2.79bp,
    mark options={xscale=0.84,line width=0.25bp},
    scatter/use mapped color={draw=mapped color!72!white,fill=mapped color},
    point meta=explicit,restrict y to domain=-3:13]
    table[x expr={-5.9+0.2*#1},y expr={\thisrowno{#1}>0 ? 11.56-0.2*\coordindex : -100},meta index=#1]{\cells};
}
\end{axis}
\begin{axis}[base,sm,axis on top,at={(431bp,658bp)},anchor=south west,width=24bp,height=473bp,
  xmin=0,xmax=1,ymin=0.7,ymax=1.71,xtick=\empty,tick pos=right,
  ytick={0.8,1.0,1.2,1.4,1.6},yticklabels={0.8,1.0,1.2,1.4,1.6},
  colormap/viridis,point meta min=0.7,point meta max=1.7]
\addplot[surf,shader=interp,point meta=y] coordinates {
(0,0.7)(1,0.7)

(0,0.8)(1,0.8)

(0,0.9)(1,0.9)

(0,1.0)(1,1.0)

(0,1.1)(1,1.1)

(0,1.2)(1,1.2)

(0,1.3)(1,1.3)

(0,1.4)(1,1.4)

(0,1.5)(1,1.5)

(0,1.6)(1,1.6)

(0,1.71)(1,1.71)
};
\end{axis}
% (b)
\begin{axis}[base,lg,at={(626bp,671bp)},anchor=south west,width=203bp,height=458bp,
  xmin=-20,xmax=20,ymin=-10.07,ymax=65.1,axis on top,
  xtick={-20,0,20},xticklabels={−20,0,20},
  ytick={-9,0,10,20,30,40,50,60},yticklabels={,0,10,20,30,40,50,60},
  tick pos=left,xlabel={x (mm)},
  every axis x label/.style={at={(axis description cs:0.5,0)},anchor=center,yshift=-60bp,font=\fontsize{24.5}{25}\selectfont},
  colormap name=mplhot,point meta min=300,point meta max=1880]
\addplot[surf,shader=interp,point meta=\thisrow{T},mesh/cols=14] table[x=x,y=y]{\flame};
\addplot[surf,shader=interp,point meta=\thisrow{T},mesh/cols=14] table[x expr=-\thisrow{x},y=y]{\flame};
\addplot[fill=white,draw=none] coordinates {(-5.95,-10.07)(-5.02,-10.07)(-5.02,-0.15)(-5.95,-0.15)} --cycle;
\addplot[fill=white,draw=none] coordinates {(5.08,-10.07)(6.0,-10.07)(6.0,-0.15)(5.08,-0.15)} --cycle;
\end{axis}
\begin{axis}[base,lg,axis on top,at={(871bp,643bp)},anchor=south west,width=25bp,height=484bp,
  xmin=0,xmax=1,ymin=300,ymax=1880,xtick=\empty,tick pos=right,
  ytick={400,600,800,1000,1200,1400,1600,1800},yticklabels={400,600,800,1000,1200,1400,1600,1800},
  colormap name=mplhot,point meta min=300,point meta max=1880]
\addplot[surf,shader=interp,point meta=y] coordinates {
(0,300)(1,300)

(0,877)(1,877)

(0,1479)(1,1479)

(0,1880)(1,1880)
};
\end{axis}
% (c)
\begin{axis}[base,sm,clip mode=individual,at={(99bp,58bp)},anchor=south west,width=805bp,height=532bp,
  xmin=234.5,xmax=1608,ymin=0.685,ymax=1.955,
  xtick={400,600,800,1000,1200,1400,1600},xticklabels={400,600,800,1000,1200,1400,1600},
  ytick={0.8,1.0,1.2,1.4,1.6,1.8},yticklabels={0.8,1.0,1.2,1.4,1.6,1.8},
  tick pos=left,xlabel={Temperature (K)},ylabel={Ratio},
  every axis x label/.style={at={(axis description cs:0.499,0)},anchor=center,yshift=-46bp,font=\fontsize{19.4}{20}\selectfont},
  every axis y label/.style={at={(axis description cs:0,0.477)},anchor=center,rotate=90,yshift=58bp,font=\fontsize{19.4}{20}\selectfont},
  reverse legend,legend cell align=left,
  legend image code/.code={\draw[mark repeat=2,mark phase=2,#1] plot coordinates {(0bp,0bp)(20bp,0bp)(40bp,0bp)};\path (52bp,0bp);},
  legend style={at={(0.0124,0.981)},anchor=north west,draw=black!15,rounded corners=3bp,line width=1bp,
    font=\fontsize{19.4}{20}\selectfont,row sep=9.5bp,inner sep=4.5bp}]
\addplot[only marks,mark=*,mark size=6bp,tabblue,mark options={fill=tabblue,draw=tabblue,line width=0pt}] table[x=T,y=R]{\scat};
\addlegendentry{coflow measurement}
\addplot[red,line width=2.6bp,mark=diamond*,mark size=8bp,mark options={fill=red,draw=red,line width=0pt,xscale=0.85}] coordinates {
(500,0.99)(600,1.10)(700,1.185)(800,1.255)(900,1.31)(1000,1.355)(1100,1.39)(1200,1.42)(1300,1.445)(1400,1.465)};
\addlegendentry{simulation}
\end{axis}
\node[font=\fontsize{24}{24}\selectfont] at (26,1119) {(a)};
\node[font=\fontsize{24}{24}\selectfont] at (526,1119) {(b)};
\node[font=\fontsize{24}{24}\selectfont] at (26,593) {(c)};
\end{tikzpicture}
\end{document}
